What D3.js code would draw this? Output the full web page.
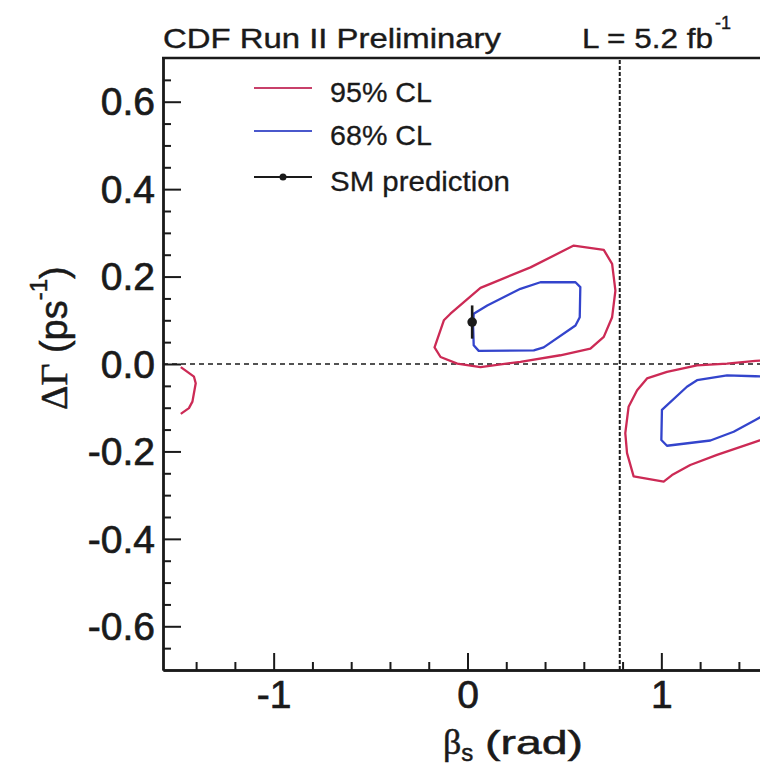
<!DOCTYPE html>
<html><head><meta charset="utf-8">
<script src="https://cdn.jsdelivr.net/npm/d3@7"></script>
<style>body{margin:0;background:#fff}svg{display:block}</style>
</head><body>
<svg id="c" width="760" height="770"></svg>
<script>
// ---- data ----
const xDomain = [-Math.PI / 2, Math.PI / 2];
const yDomain = [-0.7, 0.7];
const xMajorTicks = [-1, 0, 1];
const xTickLabels = ["-1", "0", "1"];
const xMinorTicks = [-1.4, -1.2, -0.8, -0.6, -0.4, -0.2, 0.2, 0.4, 0.6, 0.8, 1.2, 1.4];
const yMajorTicks = [-0.6, -0.4, -0.2, 0, 0.2, 0.4, 0.6];
const yTickLabels = ["-0.6", "-0.4", "-0.2", "0.0", "0.2", "0.4", "0.6"];
const yMinorTicks = [-0.65, -0.55, -0.5, -0.45, -0.35, -0.3, -0.25, -0.15, -0.1, -0.05,
  0.05, 0.1, 0.15, 0.25, 0.3, 0.35, 0.45, 0.5, 0.55, 0.65];
const hLineY = 0;
const vLineX = Math.PI / 4;

const cl95Central = [[-0.170,0.038],[-0.122,0.100],[-0.088,0.115],[0.067,0.174],[0.127,0.185],
  [0.325,0.221],[0.548,0.271],[0.703,0.261],[0.746,0.229],[0.763,0.168],[0.746,0.107],
  [0.703,0.062],[0.634,0.035],[0.479,0.020],[0.273,0.005],[0.067,-0.007],[-0.053,0.001],[-0.139,0.016]];
const cl68Central = [[0.032,0.115],[0.102,0.134],[0.273,0.172],[0.376,0.187],[0.557,0.187],
  [0.582,0.176],[0.579,0.107],[0.557,0.088],[0.393,0.038],[0.342,0.031],[0.058,0.030],
  [0.032,0.043],[0.029,0.085]];
const cl95Right = [[1.571,0.009],[1.485,0.007],[1.339,0.001],[1.184,-0.003],[1.029,-0.018],
  [0.926,-0.033],[0.875,-0.060],[0.831,-0.098],[0.814,-0.158],[0.823,-0.204],[0.857,-0.257],
  [1.012,-0.269],[1.055,-0.254],[1.149,-0.231],[1.287,-0.208],[1.485,-0.178],[1.571,-0.165]];
const cl68Right = [[1.571,-0.029],[1.485,-0.028],[1.339,-0.026],[1.184,-0.037],[1.132,-0.052],
  [1.003,-0.105],[1.000,-0.174],[1.029,-0.187],[1.253,-0.175],[1.373,-0.155],[1.485,-0.128],[1.571,-0.107]];
const cl95Left = [[-1.479,-0.007],[-1.411,-0.029],[-1.402,-0.044],[-1.419,-0.086],[-1.437,-0.101],[-1.479,-0.114]];
const smPoint = [0.024, 0.096];
const smError = 0.038;
const legendLabels = ["95% CL", "68% CL", "SM prediction"];

// ---- drawing ----
const RED = "#cc2a55", BLUE = "#3344cc", INK = "#1a1a1a";
const svg = d3.select("#c");
const x = d3.scaleLinear().domain(xDomain).range([163, 772]);
const y = d3.scaleLinear().domain(yDomain).range([670, 58]);
const sans = "'Liberation Sans', Arial, Helvetica, sans-serif";
const serif = "'Liberation Serif', 'Times New Roman', serif";

svg.append("defs").append("clipPath").attr("id", "clip")
  .append("rect").attr("x", x(xDomain[0])).attr("y", y(yDomain[1]))
  .attr("width", x(xDomain[1]) - x(xDomain[0])).attr("height", y(yDomain[0]) - y(yDomain[1]));

const plot = svg.append("g").attr("clip-path", "url(#clip)");

// dashed reference lines
plot.append("line").attr("x1", x(xDomain[0])).attr("x2", x(xDomain[1]))
  .attr("y1", y(hLineY)).attr("y2", y(hLineY))
  .attr("stroke", INK).attr("stroke-width", 1.6).attr("stroke-dasharray", "5,4");
plot.append("line").attr("x1", x(vLineX)).attr("x2", x(vLineX))
  .attr("y1", y(yDomain[0])).attr("y2", y(yDomain[1]))
  .attr("stroke", INK).attr("stroke-width", 2).attr("stroke-dasharray", "4,2");

const lineOpen = d3.line().x(d => x(d[0])).y(d => y(d[1])).curve(d3.curveLinear);
const lineClosed = d3.line().x(d => x(d[0])).y(d => y(d[1])).curve(d3.curveLinearClosed);

const contours = [
  {d: cl95Central, c: RED, closed: true},
  {d: cl68Central, c: BLUE, closed: true},
  {d: cl95Right, c: RED, closed: false},
  {d: cl68Right, c: BLUE, closed: false},
  {d: cl95Left, c: RED, closed: false}
];
plot.selectAll("path.ct").data(contours).join("path").attr("class", "ct")
  .attr("d", k => (k.closed ? lineClosed : lineOpen)(k.d))
  .attr("fill", "none").attr("stroke", k => k.c).attr("stroke-width", 2.3)
  .attr("stroke-linejoin", "round");

// SM prediction
plot.append("line").attr("x1", x(smPoint[0])).attr("x2", x(smPoint[0]))
  .attr("y1", y(smPoint[1] - smError)).attr("y2", y(smPoint[1] + smError))
  .attr("stroke", INK).attr("stroke-width", 2.6);
plot.append("circle").attr("cx", x(smPoint[0])).attr("cy", y(smPoint[1])).attr("r", 4.8).attr("fill", INK);

// axes
const axL = svg.append("g").attr("transform", `translate(${x(xDomain[0])},0)`)
  .call(d3.axisLeft(y).tickValues(yMajorTicks).tickSizeInner(-18).tickSizeOuter(0).tickPadding(8)
    .tickFormat((d, i) => yTickLabels[i]));
const axLm = svg.append("g").attr("transform", `translate(${x(xDomain[0])},0)`)
  .call(d3.axisLeft(y).tickValues(yMinorTicks).tickSizeInner(-8).tickSizeOuter(0).tickFormat(""));
const axB = svg.append("g").attr("transform", `translate(0,${y(yDomain[0])})`)
  .call(d3.axisBottom(x).tickValues(xMajorTicks).tickSizeInner(-17).tickSizeOuter(0).tickPadding(12)
    .tickFormat((d, i) => xTickLabels[i]));
const axBm = svg.append("g").attr("transform", `translate(0,${y(yDomain[0])})`)
  .call(d3.axisBottom(x).tickValues(xMinorTicks).tickSizeInner(-8).tickSizeOuter(0).tickFormat(""));
[axL, axLm, axB, axBm].forEach(a => {
  a.select(".domain").attr("stroke", INK).attr("stroke-width", 2.4);
  a.selectAll(".tick line").attr("stroke", INK).attr("stroke-width", 2);
});
axL.selectAll(".tick text").attr("font-family", sans).attr("font-size", 39).attr("fill", INK)
  .attr("stroke", INK).attr("stroke-width", 0.7)
  .attr("x", -8).attr("dy", "0.34em");
axB.selectAll(".tick text").attr("font-family", sans).attr("font-size", 39).attr("fill", INK)
  .attr("stroke", INK).attr("stroke-width", 0.7)
  .attr("y", 0).attr("dy", 38);
// top frame line
svg.append("line").attr("x1", x(xDomain[0]) - 1).attr("x2", x(xDomain[1]))
  .attr("y1", y(yDomain[1])).attr("y2", y(yDomain[1])).attr("stroke", INK).attr("stroke-width", 2.4);

// title texts
svg.append("text").attr("x", 163).attr("y", 48).attr("font-family", sans).attr("font-size", 28)
  .attr("fill", INK).attr("stroke", INK).attr("stroke-width", 0.4)
  .attr("textLength", 338).attr("lengthAdjust", "spacingAndGlyphs")
  .text("CDF Run II Preliminary");
const lum = svg.append("text").attr("x", 582).attr("y", 48).attr("font-family", sans)
  .attr("font-size", 28).attr("fill", INK).attr("stroke", INK).attr("stroke-width", 0.4);
lum.append("tspan").attr("textLength", 131).attr("lengthAdjust", "spacingAndGlyphs").text("L = 5.2 fb");
lum.append("tspan").attr("x", 715).attr("y", 29).attr("font-size", 18).text("-1");

// legend
const legY = [88, 131, 177];
const leg = svg.append("g");
leg.append("line").attr("x1", 254).attr("x2", 312).attr("y1", legY[0]).attr("y2", legY[0])
  .attr("stroke", "#c8406a").attr("stroke-width", 2);
leg.append("line").attr("x1", 254).attr("x2", 312).attr("y1", legY[1]).attr("y2", legY[1])
  .attr("stroke", "#4a58cc").attr("stroke-width", 2);
leg.append("line").attr("x1", 254).attr("x2", 312).attr("y1", legY[2]).attr("y2", legY[2])
  .attr("stroke", INK).attr("stroke-width", 2);
leg.append("circle").attr("cx", 283).attr("cy", legY[2]).attr("r", 3.5).attr("fill", INK);
const legW = [102, 102, 180];
leg.selectAll("text.lg").data(legendLabels).join("text").attr("class", "lg")
  .attr("x", 330).attr("y", (d, i) => legY[i] + 13.5)
  .attr("font-family", sans).attr("font-size", 28).attr("fill", INK)
  .attr("stroke", INK).attr("stroke-width", 0.3)
  .attr("textLength", (d, i) => legW[i]).attr("lengthAdjust", "spacingAndGlyphs")
  .text(d => d);

// x axis title
const xt = svg.append("text").attr("x", 443).attr("y", 754).attr("font-family", sans)
  .attr("font-size", 34).attr("fill", INK).attr("stroke", INK).attr("stroke-width", 0.5);
xt.append("tspan").attr("font-family", serif).attr("font-size", 36).text("β");
xt.append("tspan").attr("font-size", 24).attr("dy", 7).text("s");
xt.append("tspan").attr("x", 485).attr("dy", -7).attr("textLength", 98)
  .attr("lengthAdjust", "spacingAndGlyphs").text("(rad)");

// y axis title
const yt = svg.append("text").attr("transform", "translate(67,410) rotate(-90)")
  .attr("font-family", sans).attr("font-size", 38).attr("fill", INK)
  .attr("stroke", INK).attr("stroke-width", 0.5);
yt.append("tspan").attr("font-family", serif).text("ΔΓ");
yt.append("tspan").text(" (ps");
yt.append("tspan").attr("font-size", 24).attr("dy", -20).text("-1");
yt.append("tspan").attr("dy", 20).text(")");
</script>
</body></html>
